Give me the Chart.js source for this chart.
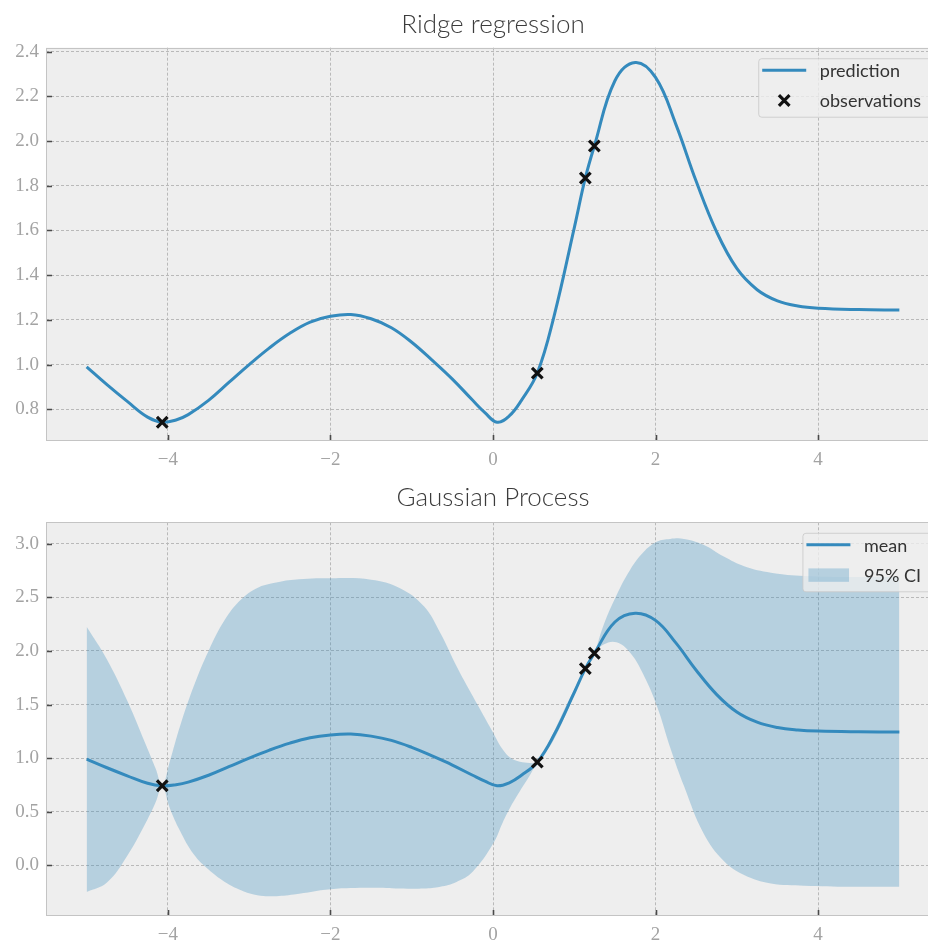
<!DOCTYPE html>
<html>
<head>
<meta charset="utf-8">
<script src="https://cdn.jsdelivr.net/npm/chart.js@4.4.0/dist/chart.umd.min.js"></script>
<style>
  html, body { margin: 0; padding: 0; background: #ffffff; overflow: hidden; width: 928px; height: 940px; }
  #wrap { position: absolute; left: 0; top: 0; width: 952px; }
  canvas { display: block; }
</style>
</head>
<body>
<div id="wrap">
  <canvas id="ridge" width="952" height="470"></canvas>
  <canvas id="gp" width="952" height="470"></canvas>
</div>
<script>
// Training observations
const obsX = [-4.07, 0.545, 1.136, 1.247];
const obsY = [0.742, 0.962, 1.835, 1.978];

// Predicted curve on the evaluation grid (ridge prediction = GP posterior mean)
const gridX = [-5.0, -4.75, -4.5, -4.25, -4.07, -3.9, -3.75, -3.5, -3.25, -3.0, -2.75, -2.5, -2.25, -2.0, -1.75,
               -1.5, -1.25, -1.0, -0.75, -0.5, -0.25, -0.1, 0.05, 0.2, 0.35, 0.545, 0.75, 1.0, 1.136, 1.247,
               1.5, 1.75, 2.0, 2.25, 2.5, 2.75, 3.0, 3.25, 3.5, 3.75, 4.0, 4.5, 5.0];
const meanY = [0.99, 0.91, 0.835, 0.765, 0.742, 0.752, 0.776, 0.84, 0.92, 1.0, 1.075, 1.14, 1.19, 1.216, 1.224,
               1.205, 1.165, 1.10, 1.02, 0.935, 0.84, 0.785, 0.742, 0.77, 0.84, 0.962, 1.215, 1.612, 1.835, 1.978,
               2.27, 2.352, 2.285, 2.075, 1.82, 1.595, 1.43, 1.335, 1.285, 1.262, 1.252, 1.246, 1.244];

// 95% confidence band of the GP
const bandX     = [-5.0, -4.75, -4.5, -4.25, -4.15, -4.07, -3.98, -3.85, -3.68, -3.5, -3.3, -3.1, -2.9, -2.7,
                   -2.45, -2.0, -1.5, -1.15, -0.85, -0.65, -0.45, -0.25, 0.0, 0.12, 0.22, 0.33, 0.45, 0.545,
                   0.7, 0.85, 1.0, 1.136, 1.19, 1.247, 1.36, 1.52, 1.69, 1.85, 2.02, 2.18, 2.35, 2.59,
                   2.84, 3.09, 3.42, 3.83, 4.4, 5.0];
const bandUpper = [2.225, 1.92, 1.534, 1.085, 0.90, 0.742, 0.96, 1.30, 1.674, 2.00, 2.29, 2.48, 2.588, 2.634,
                   2.665, 2.678, 2.665, 2.588, 2.417, 2.17, 1.86, 1.58, 1.24, 1.08, 1.0, 0.965, 0.955, 0.962,
                   1.17, 1.41, 1.64, 1.835, 1.91, 1.978, 2.24, 2.52, 2.76, 2.92, 3.02, 3.045, 3.045, 2.99,
                   2.88, 2.79, 2.73, 2.70, 2.69, 2.69];
const bandLower = [-0.25, -0.16, 0.09, 0.43, 0.59, 0.742, 0.54, 0.32, 0.10, -0.04, -0.155, -0.232, -0.279, -0.288,
                   -0.272, -0.223, -0.21, -0.217, -0.217, -0.20, -0.155, -0.06, 0.20, 0.40, 0.55, 0.69, 0.835, 0.962,
                   1.11, 1.33, 1.59, 1.835, 1.90, 1.978, 2.06, 2.08, 1.98, 1.78, 1.48, 1.10, 0.74, 0.30,
                   0.04, -0.09, -0.17, -0.19, -0.20, -0.201];

// Axis ticks
const xTicks = [-4, -2, 0, 2, 4];
const ridgeYTicks = [0.8, 1.0, 1.2, 1.4, 1.6, 1.8, 2.0, 2.2, 2.4];
const gpYTicks = [0.0, 0.5, 1.0, 1.5, 2.0, 2.5, 3.0];

const BLUE = '#348ABD';
const BAND = 'rgba(52,138,189,0.3)';
const TICK_FONT = { family: "'Liberation Serif', 'DejaVu Serif', serif", size: 19 };
const TICK_COLOR = '#a3a3a3';
const TEXT_FONT = "'Lato', 'Open Sans', sans-serif";

const pts = (xs, ys) => xs.map((x, i) => ({ x: x, y: ys[i] }));
const fmtX = v => (v < 0 ? '\u2212' + Math.abs(v) : String(v));

// Grey panel, inward tick marks, frame
const panelPlugin = {
  id: 'panel',
  beforeDraw(chart) {
    const { ctx, chartArea: a } = chart;
    ctx.save();
    ctx.fillStyle = '#eeeeee';
    ctx.fillRect(a.left, a.top, a.right - a.left, a.bottom - a.top);
    ctx.restore();
  },
  afterDatasetsDraw(chart) {
    const { ctx, chartArea: a, scales } = chart;
    ctx.save();
    ctx.strokeStyle = '#4a4a4a';
    ctx.lineWidth = 1.6;
    ctx.beginPath();
    scales.y.ticks.forEach(t => {
      const py = Math.round(scales.y.getPixelForValue(t.value)) + 0.5;
      ctx.moveTo(a.left, py); ctx.lineTo(a.left + 6, py);
    });
    scales.x.ticks.forEach(t => {
      const px = Math.round(scales.x.getPixelForValue(t.value)) + 0.5;
      ctx.moveTo(px, a.bottom); ctx.lineTo(px, a.bottom - 6);
    });
    ctx.stroke();
    ctx.strokeStyle = '#c4c4c4';
    ctx.lineWidth = 1;
    ctx.strokeRect(Math.round(a.left) + 0.5, Math.round(a.top) + 0.5,
                   Math.round(a.right - a.left) - 1, Math.round(a.bottom - a.top) - 1);
    ctx.restore();
  }
};

function drawX(ctx, x, y, r) {
  const d = r * 0.7071;
  ctx.beginPath();
  ctx.moveTo(x - d, y - d); ctx.lineTo(x + d, y + d);
  ctx.moveTo(x - d, y + d); ctx.lineTo(x + d, y - d);
  ctx.stroke();
}

// Legend box in the upper right corner of the panel
const boxLegendPlugin = {
  id: 'boxLegend',
  afterDraw(chart, args, opts) {
    const items = opts.items || [];
    if (!items.length) return;
    const { ctx, chartArea: a } = chart;
    ctx.save();
    ctx.font = '18px ' + TEXT_FONT;
    const labels = items.map(it => chart.data.datasets[it.dataset].label);
    const textW = Math.max(...labels.map(l => ctx.measureText(l).width));
    const boxW = 61.6 + textW + 12;
    const boxH = 58.5;
    const left = a.right - 7 - boxW;
    const top = a.top + 10.5;
    ctx.beginPath();
    ctx.roundRect(left + 0.5, top + 0.5, boxW, boxH, 3);
    ctx.fillStyle = 'rgba(238,238,238,0.8)';
    ctx.fill();
    ctx.strokeStyle = 'rgba(200,200,200,0.8)';
    ctx.lineWidth = 1;
    ctx.stroke();
    items.forEach((it, i) => {
      const cy = top + 12 + i * 30.3;
      if (it.kind === 'line') {
        ctx.strokeStyle = BLUE; ctx.lineWidth = 3;
        ctx.beginPath(); ctx.moveTo(left + 4, cy); ctx.lineTo(left + 48, cy); ctx.stroke();
      } else if (it.kind === 'cross') {
        ctx.strokeStyle = '#111111'; ctx.lineWidth = 3.2;
        drawX(ctx, left + 26, cy, 7.5);
      } else if (it.kind === 'rect') {
        ctx.fillStyle = BAND;
        ctx.fillRect(left + 6, cy - 6.7, 40.6, 13.4);
      }
      ctx.fillStyle = '#333333';
      ctx.textBaseline = 'middle';
      ctx.textAlign = 'left';
      ctx.fillText(labels[i], left + 61.6, cy + 1);
    });
    ctx.restore();
  }
};

function axes(yMin, yMax, yTicks, xAxisH) {
  return {
    x: {
      type: 'linear', min: -5.5, max: 5.5,
      afterBuildTicks: s => { s.ticks = xTicks.map(v => ({ value: v })); },
      afterFit: s => { s.height = xAxisH; },
      grid: { color: '#b9b9b9', lineWidth: 1, drawTicks: false },
      border: { display: false, dash: [3, 2] },
      ticks: { padding: 8, font: TICK_FONT, color: TICK_COLOR, callback: fmtX, maxRotation: 0 }
    },
    y: {
      type: 'linear', min: yMin, max: yMax,
      afterBuildTicks: s => { s.ticks = yTicks.map(v => ({ value: v })); },
      afterFit: s => { s.width = 46; },
      grid: { color: '#b9b9b9', lineWidth: 1, drawTicks: false },
      border: { display: false, dash: [3, 2] },
      ticks: { padding: 7, font: TICK_FONT, color: TICK_COLOR, callback: v => v.toFixed(1) }
    }
  };
}

function titleOpts(text, padTop, padBottom) {
  return {
    display: true, text: text, color: '#3c3c3c', fullSize: false,
    font: { family: TEXT_FONT, size: 26, weight: 300, lineHeight: 1.2 },
    padding: { top: padTop, bottom: padBottom }
  };
}

const obsDataset = label => ({
  label: label, data: pts(obsX, obsY), showLine: false,
  pointStyle: 'crossRot', pointRadius: 7.5, pointHoverRadius: 7.5,
  pointBorderWidth: 3.2, pointBorderColor: '#111111', pointBackgroundColor: '#111111',
  borderColor: '#111111'
});
const meanDataset = label => ({
  label: label, data: pts(gridX, meanY), borderColor: BLUE, borderWidth: 3,
  pointRadius: 0, tension: 0.4, fill: false
});

new Chart(document.getElementById('ridge'), {
  type: 'line',
  data: { datasets: [obsDataset('observations'), meanDataset('prediction')] },
  options: {
    responsive: false, animation: false, events: [],
    layout: { padding: { left: 0, right: 12, top: 0, bottom: 0 } },
    scales: axes(0.658, 2.418, ridgeYTicks, 29),
    plugins: {
      legend: { display: false }, tooltip: { enabled: false },
      title: titleOpts('Ridge regression', 9.4, 7.1),
      boxLegend: { items: [{ dataset: 1, kind: 'line' }, { dataset: 0, kind: 'cross' }] }
    }
  },
  plugins: [panelPlugin, boxLegendPlugin]
});

new Chart(document.getElementById('gp'), {
  type: 'line',
  data: {
    datasets: [
      obsDataset('observations'),
      meanDataset('mean'),
      { label: '95% CI', data: pts(bandX, bandUpper), borderWidth: 0, borderColor: 'rgba(0,0,0,0)',
        pointRadius: 0, tension: 0.4, fill: 3, backgroundColor: BAND },
      { label: 'lower', data: pts(bandX, bandLower), borderWidth: 0, borderColor: 'rgba(0,0,0,0)',
        pointRadius: 0, tension: 0.4, fill: false }
    ]
  },
  options: {
    responsive: false, animation: false, events: [],
    layout: { padding: { left: 0, right: 12, top: 0, bottom: 0 } },
    scales: axes(-0.473, 3.2, gpYTicks, 24),
    plugins: {
      legend: { display: false }, tooltip: { enabled: false },
      title: titleOpts('Gaussian Process', 12.4, 8.7),
      boxLegend: { items: [{ dataset: 1, kind: 'line' }, { dataset: 2, kind: 'rect' }] }
    }
  },
  plugins: [panelPlugin, boxLegendPlugin]
});
</script>
</body>
</html>
